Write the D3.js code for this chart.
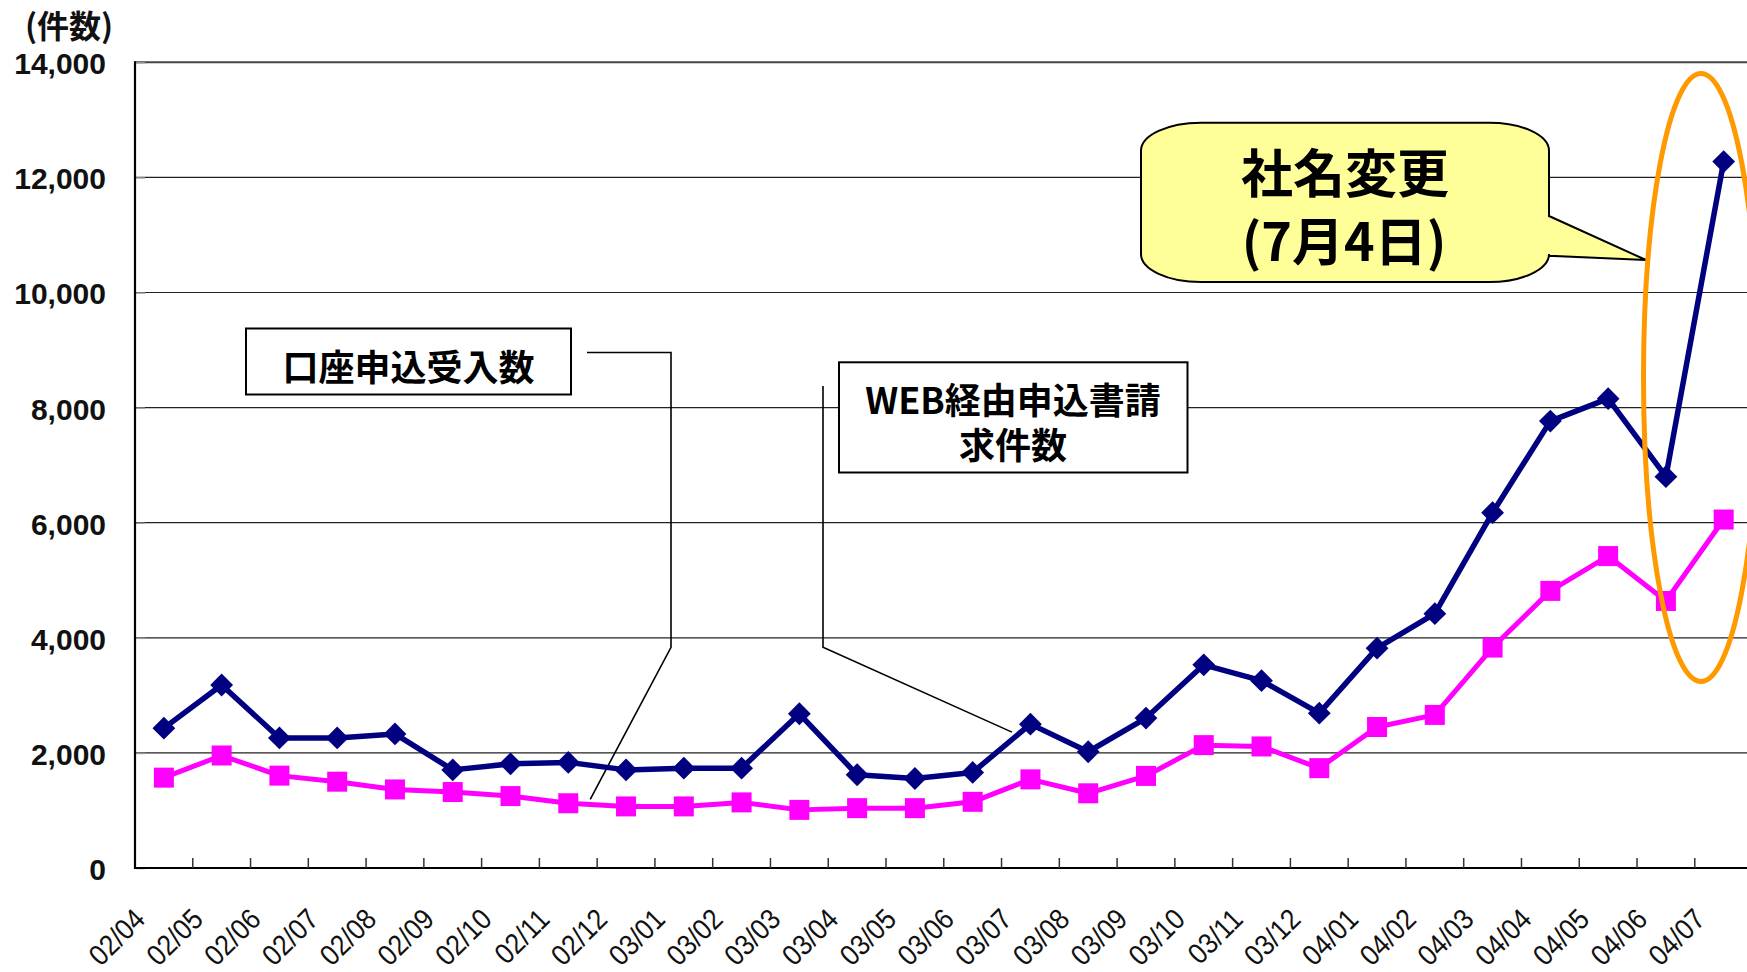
<!DOCTYPE html>
<html><head><meta charset="utf-8">
<script src="https://cdn.jsdelivr.net/npm/d3@7"></script>
<style>
html,body{margin:0;padding:0;background:#fff;overflow:hidden}
svg{display:block}
</style></head>
<body>
<svg id="chart" width="1747" height="972"></svg>
<script>
// ---- data ----
const categories = ["02/04","02/05","02/06","02/07","02/08","02/09","02/10","02/11","02/12",
  "03/01","03/02","03/03","03/04","03/05","03/06","03/07","03/08","03/09","03/10","03/11","03/12",
  "04/01","04/02","04/03","04/04","04/05","04/06","04/07"];
// WEB経由申込書請求件数 (navy)
const webRequests = [2430,3180,2260,2260,2330,1705,1810,1835,1705,1735,1735,2680,1620,1555,1660,
  2500,2020,2605,3530,3255,2690,3820,4420,6175,7765,8155,6800,12275];
// 口座申込受入数 (magenta)
const accountsOpened = [1570,1955,1605,1500,1365,1320,1250,1125,1070,1070,1140,1010,1040,1040,1150,
  1540,1298,1600,2135,2112,1735,2450,2660,3830,4815,5420,4640,6055];
const yTicks = [0,2000,4000,6000,8000,10000,12000,14000];
const yUnitLabel = "(件数)";
const seriesNames = ["WEB経由申込書請求件数", "口座申込受入数"];
const seriesLabelLines = ["WEB経由申込書請", "求件数"];
const calloutLines = ["社名変更", "(7月4日)"];

// ---- layout ----
const svg = d3.select("#chart");
const X0 = 135, BW = 57.77, X1 = X0 + BW * categories.length;
const Y0 = 868, YT = 62.3;
const x = d3.scaleBand().domain(categories).range([X0, X1]).padding(0);
const bw = x.bandwidth();
const xc = c => x(c) + bw / 2;
const y = d3.scaleLinear().domain([0, 14000]).range([Y0, YT]);
const jp = "'Noto Sans CJK JP','Noto Sans',sans-serif";

// gridlines
svg.append("g").selectAll("line").data(yTicks.filter(v => v > 0 && v < 14000)).join("line")
  .attr("x1", X0).attr("x2", 1747).attr("y1", d => y(d)).attr("y2", d => y(d))
  .attr("stroke", "#222").attr("stroke-width", 1.2);
// top frame
svg.append("line").attr("x1", X0).attr("x2", 1747).attr("y1", y(14000)).attr("y2", y(14000))
  .attr("stroke", "#444").attr("stroke-width", 2);

// y axis
const yAxis = svg.append("g").attr("transform", `translate(${X0},0)`)
  .call(d3.axisLeft(y).tickValues(yTicks).tickSize(-10).tickPadding(0).tickFormat(d3.format(",")));
yAxis.select(".domain").remove();
yAxis.selectAll(".tick line").attr("stroke", "#999").attr("stroke-width", 1.5);
yAxis.selectAll(".tick text")
  .attr("x", -29).attr("dy", "0.38em")
  .attr("font-family", "'Liberation Sans',Arial,sans-serif").attr("font-size", 30).attr("font-weight", "bold")
  .attr("fill", "#111").attr("text-anchor", "end");
svg.append("line").attr("x1", X0).attr("x2", X0).attr("y1", YT - 1).attr("y2", Y0 + 1)
  .attr("stroke", "#000").attr("stroke-width", 2.2);

// x axis
svg.append("line").attr("x1", X0 - 1).attr("x2", 1747).attr("y1", Y0).attr("y2", Y0)
  .attr("stroke", "#000").attr("stroke-width", 2.2);
svg.append("g").selectAll("line").data(categories.slice(1)).join("line")
  .attr("x1", d => x(d)).attr("x2", d => x(d)).attr("y1", Y0).attr("y2", Y0 - 10)
  .attr("stroke", "#333").attr("stroke-width", 1.5);
svg.append("g").selectAll("text").data(categories).join("text")
  .attr("transform", d => `translate(${xc(d) - 17},${Y0 + 53}) rotate(-45) scale(0.9,1)`)
  .attr("text-anchor", "end")
  .attr("font-family", "'Liberation Sans',Arial,sans-serif").attr("font-size", 29)
  .attr("fill", "#111").text(d => d);

// y unit label
svg.append("text").attr("x", 25).attr("y", 38).attr("font-family", jp).attr("font-weight", "bold")
  .attr("font-size", 32).attr("fill", "#111").text(yUnitLabel);

// leader lines
const leader = d3.line();
const p2 = 0.38;
svg.append("path").attr("fill", "none").attr("stroke", "#000").attr("stroke-width", 1.6)
  .attr("d", leader([[587, 352.5], [671, 352.5], [671, 647.3],
    [xc("02/11") + p2 * bw, y(accountsOpened[7] + p2 * (accountsOpened[8] - accountsOpened[7]) + 90)]]));
const p3 = 0.68;
svg.append("path").attr("fill", "none").attr("stroke", "#000").attr("stroke-width", 1.6)
  .attr("d", leader([[823, 386], [823, 647.3],
    [xc("03/06") + p3 * bw, y(webRequests[14] + p3 * (webRequests[15] - webRequests[14]) + 130)]]));

// series lines & markers
const line = d3.line().x((d, i) => xc(categories[i])).y(d => y(d));
svg.append("path").datum(accountsOpened).attr("d", line).attr("fill", "none")
  .attr("stroke", "#FF00FF").attr("stroke-width", 5).attr("stroke-linejoin", "round");
svg.append("path").datum(webRequests).attr("d", line).attr("fill", "none")
  .attr("stroke", "#000080").attr("stroke-width", 5.5).attr("stroke-linejoin", "round");

svg.append("g").selectAll("path").data(accountsOpened).join("path")
  .attr("transform", (d, i) => `translate(${xc(categories[i])},${y(d)})`)
  .attr("d", d3.symbol(d3.symbolSquare, 400)).attr("fill", "#FF00FF");
svg.append("g").selectAll("path").data(webRequests).join("path")
  .attr("transform", (d, i) => `translate(${xc(categories[i])},${y(d)}) rotate(45)`)
  .attr("d", d3.symbol(d3.symbolSquare, 260)).attr("fill", "#000080");

// label box 1: 口座申込受入数
svg.append("rect").attr("x", 246).attr("y", 328.5).attr("width", 325).attr("height", 66)
  .attr("fill", "#fff").attr("stroke", "#000").attr("stroke-width", 2);
svg.append("text").attr("x", 408.5).attr("y", 365).attr("dominant-baseline", "central")
  .attr("text-anchor", "middle").attr("font-family", jp).attr("font-weight", "bold")
  .attr("font-size", 36).attr("fill", "#000").text(seriesNames[1]);

// label box 2: WEB経由申込書請求件数
svg.append("rect").attr("x", 839).attr("y", 362.3).attr("width", 348.5).attr("height", 110.2)
  .attr("fill", "#fff").attr("stroke", "#000").attr("stroke-width", 2);
svg.append("g").selectAll("text").data(seriesLabelLines).join("text")
  .attr("x", 1013).attr("y", (d, i) => 398 + i * 45).attr("dominant-baseline", "central")
  .attr("text-anchor", "middle").attr("font-family", jp).attr("font-weight", "bold")
  .attr("font-size", 36).attr("fill", "#000").text(d => d);

// callout
const L = 1141, R = 1549, T = 122.7, B = 282, rx = 60, ry = 28;
const tip = [1646, 260];
const cp = `M${L + rx},${T} H${R - rx} A${rx},${ry} 0 0 1 ${R},${T + ry} V216 L${tip[0]},${tip[1]} L${R},255.7 V${B - ry} A${rx},${ry} 0 0 1 ${R - rx},${B} H${L + rx} A${rx},${ry} 0 0 1 ${L},${B - ry} V${T + ry} A${rx},${ry} 0 0 1 ${L + rx},${T} Z`;
svg.append("path").attr("d", cp).attr("fill", "#FFFF99").attr("stroke", "#000").attr("stroke-width", 2);
svg.append("g").selectAll("text").data(calloutLines).join("text")
  .attr("x", (d, i) => 1345 - i).attr("y", (d, i) => 170 + i * 68).attr("dominant-baseline", "central")
  .attr("text-anchor", "middle").attr("font-family", jp).attr("font-weight", "bold")
  .attr("font-size", 52).attr("fill", "#000").text(d => d);

// highlight ellipse
svg.append("ellipse").attr("cx", 1701).attr("cy", 377.5).attr("rx", 57.5).attr("ry", 304)
  .attr("fill", "none").attr("stroke", "#FF9900").attr("stroke-width", 5);
</script>
</body></html>
